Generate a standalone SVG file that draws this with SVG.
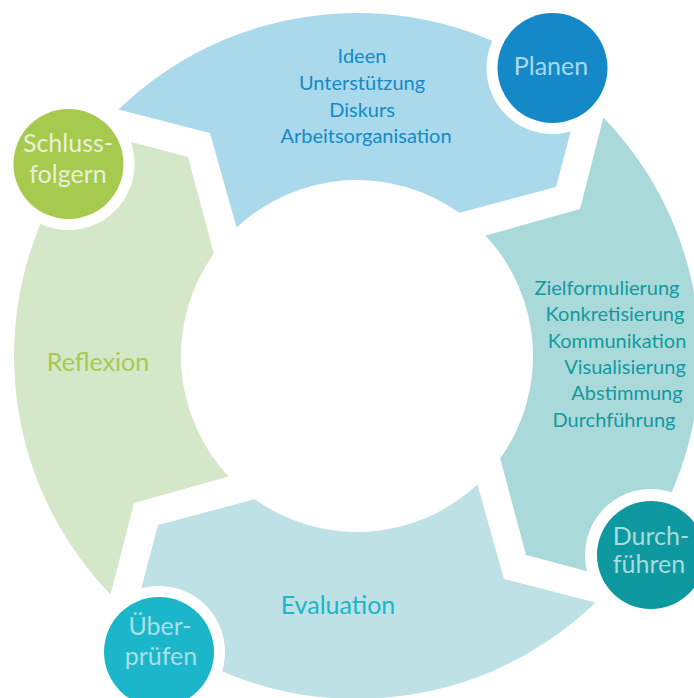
<svg xmlns="http://www.w3.org/2000/svg" width="694" height="698" viewBox="0 0 694 698">
<defs>
<style>
text{font-family:Lato,"Noto Sans","Liberation Sans",sans-serif;text-anchor:middle}
.lbl{font-size:20px}
.big{font-size:25px}
.halo{fill:#ffffff}
</style>
<path id="seg" d="M118.4 109.6 A343 343 0 0 1 580.2 95.6 L556 187 L459.4 212.8 A176 176 0 0 0 236.6 227.6 L210 133 Z"/>
</defs>
<rect width="694" height="698" fill="#ffffff"/>
<g id="connectors">
<use id="seg-plan" href="#seg" fill="#A9D9EA"/>
<use id="seg-durch" href="#seg" fill="#AAD9DA" transform="rotate(90 357 356)"/>
<use id="seg-eval" href="#seg" fill="#BDE1E5" transform="rotate(180 357 356)"/>
<use id="seg-refl" href="#seg" fill="#D5E7C9" transform="rotate(270 357 356)"/>
</g>
<g id="label-top" fill="#1589C8" class="lbl">
<text x="362" y="63">Ideen</text>
<text x="362" y="90">Unterstützung</text>
<text x="362" y="117">Diskurs</text>
<text x="366" y="143">Arbeitsorganisation</text>
</g>
<g id="label-right" fill="#12999F" class="lbl">
<text x="607" y="295">Zielformulierung</text>
<text x="615" y="321">Konkretisierung</text>
<text x="617" y="348">Kommunikation</text>
<text x="625" y="374">Visualisierung</text>
<text x="627" y="400">Abstimmung</text>
<text x="614" y="427">Durchführung</text>
</g>
<g id="label-eval"><text x="338" y="614" class="big" fill="#1BB6C9">Evaluation</text></g>
<g id="label-refl"><text x="98" y="371" class="big" fill="#A6CA4E">Reflexion</text></g>
<g id="node-planen">
<circle class="halo" cx="552.5" cy="68" r="66"/>
<circle cx="552.5" cy="68" r="55" fill="#1588C7"/>
<text x="551" y="75" class="big" fill="#A9D9EA">Planen</text>
</g>
<g id="node-durchfuehren">
<circle class="halo" cx="651" cy="555" r="66"/>
<circle cx="651" cy="555" r="54" fill="#0E989F"/>
<text x="651" y="545" class="big" fill="#A9DBDC">Durch-</text>
<text x="649" y="573" class="big" fill="#A9DBDC">führen</text>
</g>
<g id="node-ueberpruefen">
<circle class="halo" cx="159" cy="652" r="66"/>
<circle cx="159" cy="652" r="55" fill="#1BB6C9"/>
<text x="160" y="635" class="big" fill="#A9DFE6">Über-</text>
<text x="161" y="665" class="big" fill="#A9DFE6">prüfen</text>
</g>
<g id="node-schlussfolgern">
<circle class="halo" cx="68.5" cy="164" r="66"/>
<circle cx="68.5" cy="164" r="55" fill="#A6CA4E"/>
<text x="68" y="152" class="big" fill="#E8F0DA">Schluss-</text>
<text x="68" y="183" class="big" fill="#E8F0DA">folgern</text>
</g>
</svg>
